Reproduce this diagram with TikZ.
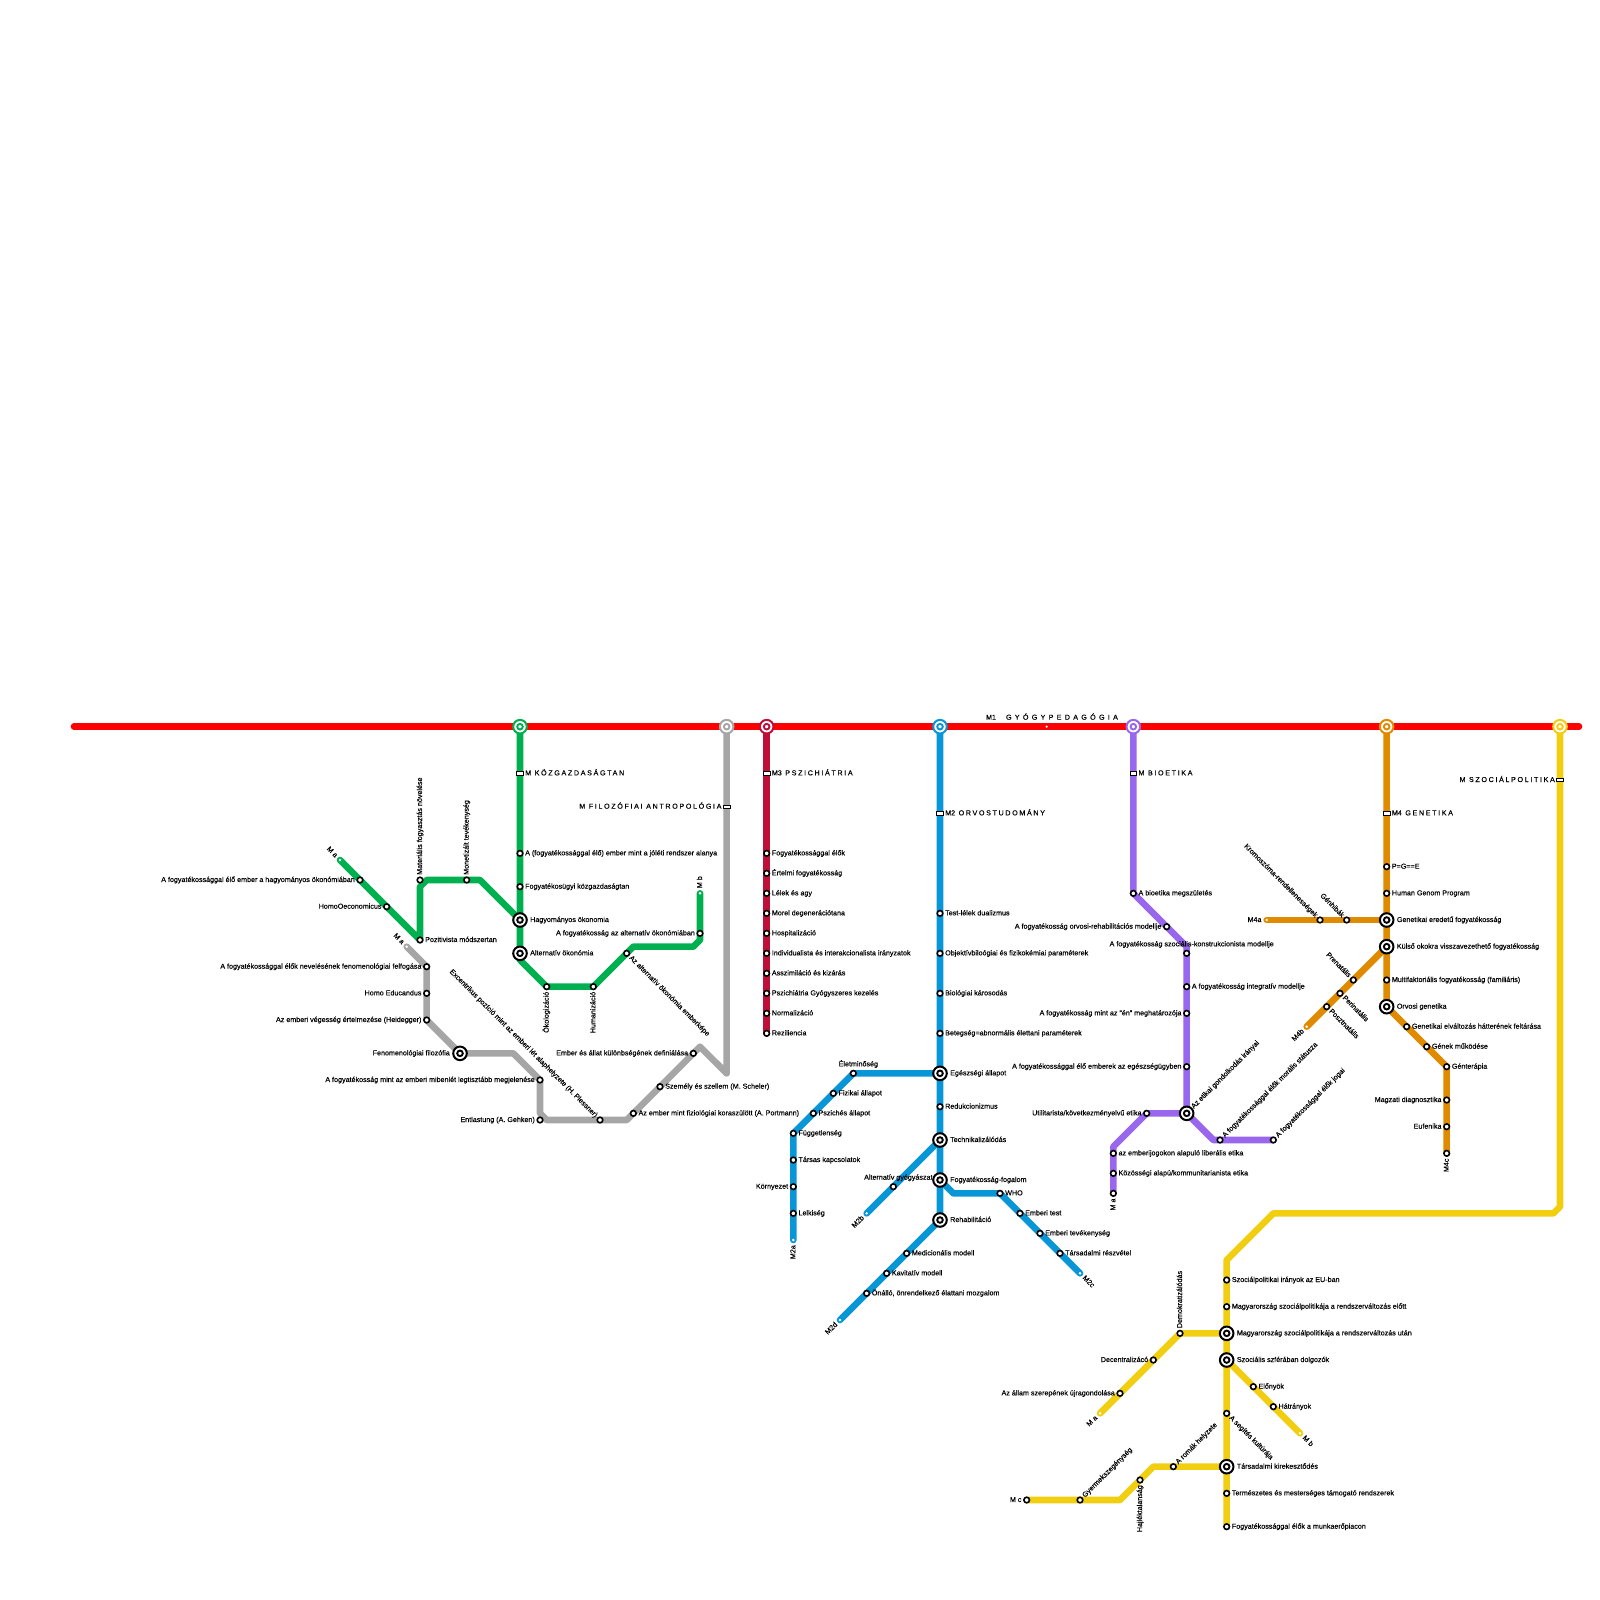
\documentclass[tikz,border=0pt]{standalone}
\usepackage{fontspec}
\setmainfont{Liberation Sans}[FakeBold=.25]
\usetikzlibrary{backgrounds}

\definecolor{mred}{HTML}{FF0000}
\definecolor{mgreen}{HTML}{00B050}
\definecolor{mgrey}{HTML}{A6A6A6}
\definecolor{mcrim}{HTML}{BD1038}
\definecolor{mblue}{HTML}{0896D7}
\definecolor{mpurp}{HTML}{9966EE}
\definecolor{morange}{HTML}{E08A00}
\definecolor{myellow}{HTML}{F2CE10}

\newcommand\wide[2][23]{{\addfontfeature{LetterSpace=#1}#2}}

\tikzset{
	metro/.style={draw=#1,line width=6.6pt,line cap=round,line join=round},
	stop/.style={circle,fill=white,draw=black,line width=1.6pt,minimum size=5.6pt,inner sep=0pt},
	hub/.style={circle,fill=white,draw=#1,line width=2pt,minimum size=13.6pt,inner sep=0pt,
		path picture={\draw[#1,line width=1.9pt] (path picture bounding box.center) circle (2.8pt);}},
	hub/.default=black,
	endtip/.style={circle,fill=white,minimum size=2.8pt,inner sep=0pt},
	barst/.style={rectangle,fill=white,draw=black,line width=.7pt,minimum width=6.6pt,minimum height=3.6pt,inner sep=0pt},
	txt/.style={inner sep=0pt,font=\fontsize{7.15}{8}\selectfont},
	lbr/.style={txt,anchor=base west,xshift=5pt,yshift=-2pt},
	lbl/.style={txt,anchor=base east,xshift=-5pt,yshift=-2pt},
	hbr/.style={txt,anchor=base west,xshift=10pt,yshift=-2pt},
	hbl/.style={txt,anchor=base east,xshift=-10pt,yshift=-2pt},
	lbu/.style={txt,anchor=base west,xshift=2pt,yshift=5pt,rotate=90},
	lbd/.style={txt,anchor=base east,xshift=2pt,yshift=-5pt,rotate=90},
	lba/.style={txt,anchor=base,xshift=5pt,yshift=7pt},
	lbne/.style={txt,anchor=base west,xshift=4.9pt,yshift=2.1pt,rotate=45},
	hbne/.style={txt,anchor=base west,xshift=7.1pt,yshift=4.3pt,rotate=45},
	lbse/.style={txt,anchor=base west,xshift=2.1pt,yshift=-4.9pt,rotate=-45},
	lbnw/.style={txt,anchor=base east,xshift=-4.9pt,yshift=2.1pt,rotate=-45},
	lbsw/.style={txt,anchor=base east,xshift=-2.1pt,yshift=-4.9pt,rotate=45},
}

\begin{document}
\begin{tikzpicture}[x=1pt,y=-1pt]
	\useasboundingbox (0,0) rectangle (1600,1600);
	\def\ry{726.67}	%height of the main line
	\def\gap{\hspace{3.5pt}}	%after the line number in a line title

	%stations on the main line
	\foreach \nm/\x/\c in {gr0/520/mgreen,gy0/726.67/mgrey,cr0/766.67/mcrim,bl0/940/mblue,pu0/1133.33/mpurp,or0/1386.67/morange,ye0/1560/myellow}{
		\node[hub=\c] (\nm) at (\x,\ry) {};
	}
	\node[endtip,minimum size=2.4pt] (m1) at (1046.67,\ry) {};
	\node[txt,anchor=base,xshift=5.3pt,yshift=7pt] (m1-t) at (m1) {M1\hspace{10pt}\wide[46]{GYÓGYPEDAGÓGIA}};
	\coordinate (redL) at (74,\ry);
	\coordinate (redR) at (1579,\ry);

	%name/x/y/kind/label side/label
	\foreach \nm/\x/\y/\kind/\side/\tx in {
		gr1/520/773.33/barst/lbr/{M\gap\wide{KÖZGAZDASÁGTAN}},
		gr2/520/853.33/stop/lbr/{A (fogyatékossággal élő) ember mint a jóléti rendszer alanya},
		gr3/520/886.67/stop/lbr/{Fogyatékosügyi közgazdaságtan},
		gr4/520/920/hub/hbr/{Hagyományos ökonomia},
		gr5/520/953.33/hub/hbr/{Alternatív ökonómia},
		gr6/546.67/986.67/stop/lbd/{Ökologizáció},
		gr7/593.33/986.67/stop/lbd/{Humanizáció},
		gr8/626.67/953.33/stop/lbse/{Az alternatív ökonómia emberképe},
		gr9/700/933.33/stop/lbl/{A fogyatékosság az alternatív ökonómiában},
		gr10/700/893.33/endtip/lbu/{M b},
		ga0/340/860/endtip/lbnw/{M a},
		ga1/360/880/stop/lbl/{A fogyatékossággal élő ember a hagyományos ökonómiában},
		ga2/386.67/906.67/stop/lbl/{HomoOeconomicus},
		ga3/420/940/stop/lbr/{Pozitivista módszertan},
		ga4/420/880/stop/lbu/{Materiális fogyasztás növelése},
		ga5/466.67/880/stop/lbu/{Monetizált tevékenység},
		gy1/726.67/806.67/barst/lbl/{M\gap\wide{FILOZÓFIAI ANTROPOLÓGIA}},
		gy2/693.33/1053.33/stop/lbl/{Ember és állat különbségének definiálása},
		gy3/660/1086.67/stop/lbr/{Személy és szellem (M. Scheler)},
		gy4/633.33/1113.33/stop/lbr/{Az ember mint fiziológiai koraszülött (A. Portmann)},
		gy5/600/1120/stop/lbnw/{Excentrikus pozíció mint az emberi lét alaphelyzete (H. Plessner)},
		gy6/540/1120/stop/lbl/{Entlastung (A. Gehken)},
		gy7/540/1080/stop/lbl/{A fogyatékosság mint az emberi mibenlét legtisztább megjelenése},
		gy8/460/1053.33/hub/hbl/{Fenomenológiai filozófia},
		gy9/426.67/1020/stop/lbl/{Az emberi végesség értelmezése (Heidegger)},
		gy10/426.67/993.33/stop/lbl/{Homo Educandus},
		gy11/426.67/966.67/stop/lbl/{A fogyatékossággal élők nevelésének fenomenológiai felfogása},
		gy12/406.67/946.67/endtip/lbnw/{M a},
		cr1/766.67/773.33/barst/lbr/{M3\gap\wide{PSZICHIÁTRIA}},
		cr2/766.67/853.33/stop/lbr/{Fogyatékossággal élők},
		cr3/766.67/873.33/stop/lbr/{Értelmi fogyatékosság},
		cr4/766.67/893.33/stop/lbr/{Lélek és agy},
		cr5/766.67/913.33/stop/lbr/{Morel degenerációtana},
		cr6/766.67/933.33/stop/lbr/{Hospitalizáció},
		cr7/766.67/953.33/stop/lbr/{Individualista és interakcionalista irányzatok},
		cr8/766.67/973.33/stop/lbr/{Asszimiláció és kizárás},
		cr9/766.67/993.33/stop/lbr/{Pszichiátria Gyógyszeres kezelés},
		cr10/766.67/1013.33/stop/lbr/{Normalizáció},
		cr11/766.67/1033.33/stop/lbr/{Reziliencia},
		bl1/940/813.33/barst/lbr/{M2\gap\wide{ORVOSTUDOMÁNY}},
		bl2/940/913.33/stop/lbr/{Test-lélek dualizmus},
		bl3/940/953.33/stop/lbr/{Objektívbiloógiai és fizikokémiai paraméterek},
		bl4/940/993.33/stop/lbr/{Biológiai károsodás},
		bl5/940/1033.33/stop/lbr/{Betegség=abnormális élettani paraméterek},
		bl6/940/1073.33/hub/hbr/{Egészségi állapot},
		bl7/940/1106.67/stop/lbr/{Redukcionizmus},
		bl8/940/1140/hub/hbr/{Technikalizálódás},
		bl9/940/1180/hub/hbr/{Fogyatékosság-fogalom},
		bl10/940/1220/hub/hbr/{Rehabilitáció},
		ba1/853.33/1073.33/stop/lba/{Életminőség},
		ba2/833.33/1093.33/stop/lbr/{Fizikai állapot},
		ba3/813.33/1113.33/stop/lbr/{Pszichés állapot},
		ba4/793.33/1133.33/stop/lbr/{Függetlenség},
		ba5/793.33/1160/stop/lbr/{Társas kapcsolatok},
		ba6/793.33/1186.67/stop/lbl/{Környezet},
		ba7/793.33/1213.33/stop/lbr/{Lelkiség},
		ba8/793.33/1240/endtip/lbd/{M2a},
		bb1/893.33/1186.67/stop/lba/{Alternatív gyógyászat},
		bb2/866.67/1213.33/endtip/lbsw/{M2b},
		bc1/1000/1193.33/stop/lbr/{WHO},
		bc2/1020/1213.33/stop/lbr/{Emberi test},
		bc3/1040/1233.33/stop/lbr/{Emberi tevékenység},
		bc4/1060/1253.33/stop/lbr/{Társadalmi részvétel},
		bc5/1080/1273.33/endtip/lbse/{M2c},
		bd1/906.67/1253.33/stop/lbr/{Medicionális modell},
		bd2/886.67/1273.33/stop/lbr/{Kavitatív modell},
		bd3/866.67/1293.33/stop/lbr/{Önálló, önrendelkező élattani mozgalom},
		bd4/840/1320/endtip/lbsw/{M2d},
		pu1/1133.33/773.33/barst/lbr/{M\gap\wide{BIOETIKA}},
		pu2/1133.33/893.33/stop/lbr/{A bioetika megszületés},
		pu3/1166.67/926.67/stop/lbl/{A fogyatékosság orvosi-rehabilitációs modellje},
		pu4/1186.67/953.33/stop/lba/{A fogyatékosság szociális-konstrukcionista modellje},
		pu5/1186.67/986.67/stop/lbr/{A fogyatékosság integratív modellje},
		pu6/1186.67/1013.33/stop/lbl/{A fogyatékosság mint az "én" meghatározója},
		pu7/1186.67/1066.67/stop/lbl/{A fogyatékossággal élő emberek az egészségügyben},
		pu8/1186.67/1113.33/hub/hbne/{Az etikai gondolkodás irányai},
		pu9/1146.67/1113.33/stop/lbl/{Utilitarista/következményelvű etika},
		pu10/1113.33/1153.33/stop/lbr/{az emberijogokon alapuló liberális etika},
		pu11/1113.33/1173.33/stop/lbr/{Közösségi alapú/kommunitarianista etika},
		pu12/1113.33/1193.33/stop/lbd/{M a},
		pu13/1220/1140/stop/lbne/{A fogyatékossággal élők morális státusza},
		pu14/1273.33/1140/stop/lbne/{A fogyatékossággal élők jogai},
		or1/1386.67/813.33/barst/lbr/{M4\gap\wide{GENETIKA}},
		or2/1386.67/866.67/stop/lbr/{P=G==E},
		or3/1386.67/893.33/stop/lbr/{Human Genom Program},
		or4/1386.67/920/hub/hbr/{Genetikai eredetű fogyatékosság},
		or5/1386.67/946.67/hub/hbr/{Külső okokra visszavezethető fogyatékosság},
		or6/1386.67/980/stop/lbr/{Multifaktoriális fogyatékosság (familiáris)},
		or7/1386.67/1006.67/hub/hbr/{Orvosi genetika},
		or8/1406.67/1026.67/stop/lbr/{Genetikai elváltozás hátterének feltárása},
		or9/1426.67/1046.67/stop/lbr/{Gének működése},
		or10/1446.67/1066.67/stop/lbr/{Génterápia},
		or11/1446.67/1100/stop/lbl/{Magzati diagnosztika},
		or12/1446.67/1126.67/stop/lbl/{Eufenika},
		or13/1446.67/1153.33/stop/lbd/{M4c},
		oa1/1346.67/920/stop/lbnw/{Génhibák},
		oa2/1320/920/stop/lbnw/{Kromoszóma-rendellenességek},
		oa3/1266.67/920/endtip/lbl/{M4a},
		ob1/1353.33/980/stop/lbnw/{Prenatális},
		ob2/1340/993.33/stop/lbse/{Perinatális},
		ob3/1326.67/1006.67/stop/lbse/{Posztnatális},
		ob4/1306.67/1026.67/endtip/lbsw/{M4b},
		ye1/1560/780/barst/lbl/{M\gap\wide{SZOCIÁLPOLITIKA}},
		ye2/1226.67/1280/stop/lbr/{Szociálpolitikai irányok az EU-ban},
		ye3/1226.67/1306.67/stop/lbr/{Magyarország szociálpolitikája a rendszerváltozás előtt},
		ye4/1226.67/1333.33/hub/hbr/{Magyarország szociálpolitikája a rendszerváltozás után},
		ye5/1226.67/1360/hub/hbr/{Szociális szférában dolgozók},
		ye6/1226.67/1413.33/stop/lbse/{A segítés kultúrája},
		ye7/1226.67/1466.67/hub/hbr/{Társadalmi kirekesztődés},
		ye8/1226.67/1493.33/stop/lbr/{Természetes és mesterséges támogató rendszerek},
		ye9/1226.67/1526.67/stop/lbr/{Fogyatékossággal élők a munkaerőpiacon},
		ya1/1180/1333.33/stop/lbu/{Demokratizálódás},
		ya2/1153.33/1360/stop/lbl/{Decentralizácó},
		ya3/1120/1393.33/stop/lbl/{Az állam szerepének újragondolása},
		ya4/1100/1413.33/endtip/lbsw/{M a},
		yb1/1253.33/1386.67/stop/lbr/{Előnyök},
		yb2/1273.33/1406.67/stop/lbr/{Hátrányok},
		yb3/1300/1433.33/endtip/lbse/{M b},
		yc1/1173.33/1466.67/stop/lbne/{A romák helyzete},
		yc2/1140/1480/stop/lbd/{Hajléktalanság},
		yc3/1080/1500/stop/lbne/{Gyermekszegénység},
		yc4/1026.67/1500/stop/lbl/{M c}%
	}{
		\node[\kind] (\nm) at (\x,\y) {};
		\node[\side] (\nm-t) at (\nm.center) {\tx};
	}

	%bends
	\coordinate (gA) at (426.67,880);
	\coordinate (gB) at (420,886.67);
	\coordinate (gC) at (480,880);
	\coordinate (gD) at (520,960);
	\coordinate (gE) at (633.33,946.67);
	\coordinate (gF) at (693.33,946.67);
	\coordinate (gG) at (700,940);
	\coordinate (yA) at (513.33,1053.33);
	\coordinate (yB) at (540,1113.33);
	\coordinate (yC) at (546.67,1120);
	\coordinate (yD) at (626.67,1120);
	\coordinate (yE) at (700,1046.67);
	\coordinate (yF) at (726.67,1073.33);
	\coordinate (bA) at (953.33,1193.33);
	\coordinate (pA) at (1186.67,946.67);
	\coordinate (pB) at (1113.33,1146.67);
	\coordinate (pC) at (1213.33,1140);
	\coordinate (sA) at (1560,1206.67);
	\coordinate (sB) at (1553.33,1213.33);
	\coordinate (sC) at (1273.33,1213.33);
	\coordinate (sD) at (1226.67,1260);
	\coordinate (sE) at (1153.33,1466.67);
	\coordinate (sF) at (1120,1500);

	\begin{scope}[on background layer]
	\draw[metro=mred] (redL) -- (redR);
	\draw[metro=mgreen] (gr0.center) -- (gD) -- (gr6.center) -- (gr7.center) -- (gE) -- (gF) -- (gG) -- (gr10.center);
	\draw[metro=mgreen] (ga0.center) -- (ga3.center) -- (gB) -- (gA) -- (gC) -- (gr4.center);
	\draw[metro=mgrey] (gy0.center) -- (yF) -- (yE) -- (yD) -- (yC) -- (yB) -- (gy7.center) -- (yA) -- (gy8.center) -- (gy9.center) -- (gy11.center) -- (gy12.center);
	\draw[metro=mcrim] (cr0.center) -- (cr11.center);
	\draw[metro=mblue] (bl0.center) -- (bl10.center) -- (bd4.center);
	\draw[metro=mblue] (bl6.center) -- (ba1.center) -- (ba4.center) -- (ba8.center);
	\draw[metro=mblue] (bl8.center) -- (bb2.center);
	\draw[metro=mblue] (bl9.center) -- (bA) -- (bc1.center) -- (bc5.center);
	\draw[metro=mpurp] (pu0.center) -- (pu2.center) -- (pA) -- (pu8.center);
	\draw[metro=mpurp] (pu8.center) -- (pu9.center) -- (pB) -- (pu12.center);
	\draw[metro=mpurp] (pu8.center) -- (pC) -- (pu14.center);
	\draw[metro=morange] (or0.center) -- (or7.center) -- (or10.center) -- (or13.center);
	\draw[metro=morange] (oa3.center) -- (or4.center);
	\draw[metro=morange] (ob4.center) -- (or5.center);
	\draw[metro=myellow] (ye0.center) -- (sA) -- (sB) -- (sC) -- (sD) -- (ye9.center);
	\draw[metro=myellow] (ye4.center) -- (ya1.center) -- (ya4.center);
	\draw[metro=myellow] (ye5.center) -- (yb3.center);
	\draw[metro=myellow] (ye7.center) -- (sE) -- (sF) -- (yc4.center);
	\end{scope}
\end{tikzpicture}
\end{document}
